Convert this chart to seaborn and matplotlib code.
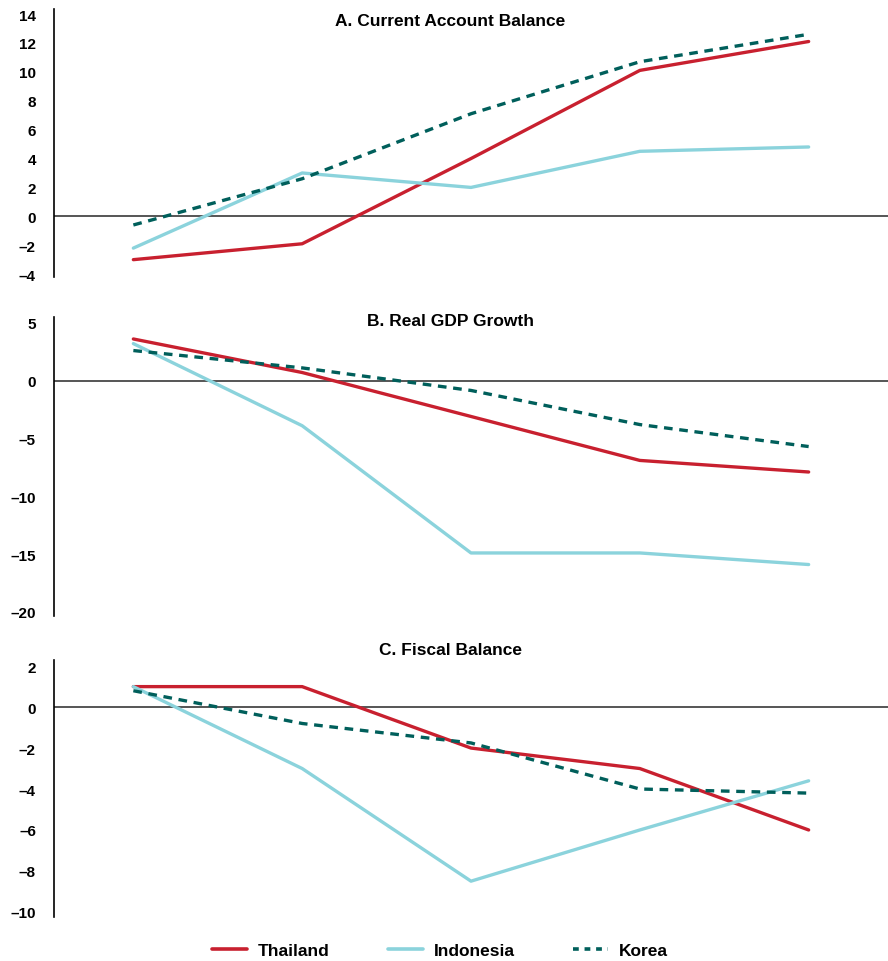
import matplotlib
matplotlib.use("Agg")
import matplotlib.pyplot as plt
import seaborn as sns
import pandas as pd
from matplotlib.lines import Line2D

sns.set_theme(style="white")
plt.rcParams['font.family'] = ['Liberation Sans', 'DejaVu Sans']
plt.rcParams['axes.unicode_minus'] = True
plt.rcParams['text.color'] = 'black'
plt.rcParams['ytick.color'] = 'black'
plt.rcParams['ytick.labelcolor'] = 'black'

periods = [0, 1, 2, 3, 4]
countries = ["Thailand", "Indonesia", "Korea"]

ca_thailand = [-3.0, -1.9, 4.0, 10.1, 12.1]
ca_indonesia = [-2.2, 3.0, 2.0, 4.5, 4.8]
ca_korea = [-0.6, 2.6, 7.1, 10.7, 12.6]

gdp_thailand = [3.6, 0.7, -3.1, -6.9, -7.9]
gdp_indonesia = [3.2, -3.9, -14.9, -14.9, -15.9]
gdp_korea = [2.6, 1.1, -0.85, -3.8, -5.7]

fb_thailand = [1.0, 1.0, -2.0, -3.0, -6.0]
fb_indonesia = [1.0, -3.0, -8.5, -6.0, -3.6]
fb_korea = [0.8, -0.8, -1.75, -4.0, -4.2]

titles = ["A. Current Account Balance", "B. Real GDP Growth", "C. Fiscal Balance"]
yticks_list = [list(range(-4, 15, 2)), list(range(-20, 6, 5)), list(range(-10, 3, 2))]
ylims = [(-4.2, 14.35), (-20.35, 5.5), (-10.25, 2.3)]

colors = {"Thailand": "#C8202F", "Indonesia": "#8BD3DC", "Korea": "#005F5B"}
dash_styles = {"Thailand": "", "Indonesia": "", "Korea": (2.6, 2.0)}

panels = [
    {"Thailand": ca_thailand, "Indonesia": ca_indonesia, "Korea": ca_korea},
    {"Thailand": gdp_thailand, "Indonesia": gdp_indonesia, "Korea": gdp_korea},
    {"Thailand": fb_thailand, "Indonesia": fb_indonesia, "Korea": fb_korea},
]

fig = plt.figure(figsize=(8.88, 9.62), dpi=100)
left = 54 / 888
width = (888 - 54) / 888
rects = [
    (left, (962 - 278) / 962, width, 268 / 962),
    (left, (962 - 617) / 962, width, 299 / 962),
    (left, (962 - 918) / 962, width, 257 / 962),
]
title_y = [21, 321, 651]

for i, (panel, rect) in enumerate(zip(panels, rects)):
    ax = fig.add_axes(rect)
    rows = []
    for c in countries:
        for p, v in zip(periods, panel[c]):
            rows.append({"period": p, "value": v, "country": c})
    df = pd.DataFrame(rows)
    ax.axhline(0, color="#555555", lw=1.4, zorder=1)
    sns.lineplot(data=df, x="period", y="value", hue="country", style="country",
                 palette=colors, dashes=dash_styles, hue_order=countries,
                 style_order=countries, linewidth=2.4, ax=ax, legend=False, zorder=3)
    ax.set_xlim(-0.47, 4.47)
    ax.set_ylim(*ylims[i])
    ax.set_yticks(yticks_list[i])
    ax.set_yticklabels([str(t).replace("-", "\u2013") for t in yticks_list[i]],
                       fontsize=11, fontweight="bold", color="black")
    ax.set_xticks([])
    ax.set_xlabel("")
    ax.set_ylabel("")
    for s in ["top", "right", "bottom"]:
        ax.spines[s].set_visible(False)
    ax.spines["left"].set_color("black")
    ax.spines["left"].set_linewidth(1.2)
    ax.tick_params(axis="y", length=0, pad=13)
    ax.set_facecolor("none")
    fig.text(450 / 888, 1 - title_y[i] / 962, titles[i], ha="center", va="center",
             fontsize=12.5, fontweight="bold", color="black")

handles = [
    Line2D([], [], color=colors["Thailand"], lw=2.6),
    Line2D([], [], color=colors["Indonesia"], lw=2.6),
    Line2D([], [], color=colors["Korea"], lw=2.6, dashes=(1.6, 1.6)),
]
fig.legend(handles, countries, loc="center", bbox_to_anchor=(440 / 888, 1 - 951 / 962),
           ncol=3, frameon=False, prop={"weight": "bold", "size": 12.5},
           columnspacing=3.4, handlelength=2.0, handletextpad=0.6,
           labelcolor="black")

fig.savefig("out.png", dpi=100)
